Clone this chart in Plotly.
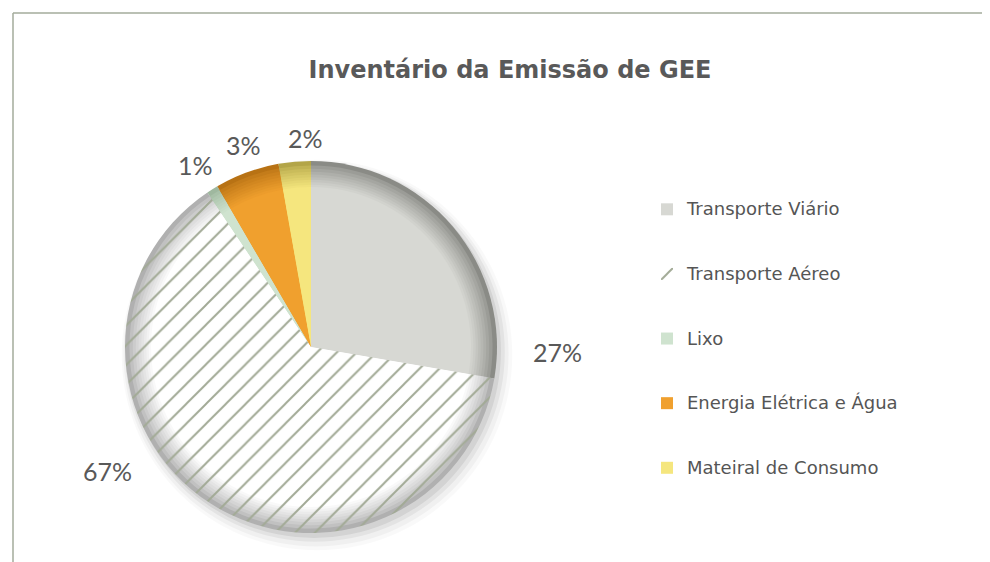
import plotly.graph_objects as go

# ---- data ----
categories = ["Transporte Viário", "Transporte Aéreo", "Lixo",
              "Energia Elétrica e Água", "Mateiral de Consumo"]
slice_values = [27.7, 62.9, 1.0, 5.6, 2.8]          # angular share as drawn
label_texts = ["27%", "67%", "1%", "3%", "2%"]       # percentages printed

face_colors = ["#d7d8d3", "#ffffff", "#cfe3cf", "#f0a02e", "#f5e67e"]
edge_colors = ["#8a8b86", "#b0b0b0", "#9fb89f", "#b87214", "#b3a548"]
shapes_pat = ["", "/", "", "", ""]
hatch_color = "#a2aa96"

# page body has an 8px margin, so the figure is drawn 8px lower/right
OFF = 8
W, H = 982, 554
CX, CY, R = 311 - OFF, 347 - OFF, 186


def dom(f, dx=0, dy=0):
    r = f * R
    return dict(x=[(CX + dx - r) / W, (CX + dx + r) / W],
                y=[1 - (CY + dy + r) / H, 1 - (CY + dy - r) / H])


def mix(c1, c2, t):
    a = [int(c1[i:i + 2], 16) for i in (1, 3, 5)]
    b = [int(c2[i:i + 2], 16) for i in (1, 3, 5)]
    return "#%02x%02x%02x" % tuple(round(a[k] + (b[k] - a[k]) * t) for k in range(3))


legend_names = [" <br><span style='font-size:18px'>" + c + "</span><br> " for c in categories]

fig = go.Figure()

# soft shadow layers
for f, dx, dy, a in [(1.05, 6, 8, 0.025), (1.035, 5, 7, 0.035), (1.02, 4, 5, 0.05), (1.005, 3, 4, 0.07)]:
    fig.add_trace(go.Pie(values=[1], labels=["shadow"], domain=dom(f, dx, dy),
                         marker=dict(colors=[f"rgba(0,0,0,{a})"], line=dict(width=0)),
                         textinfo="none", hoverinfo="skip", showlegend=False,
                         sort=False))

N = 10
for i in range(N):
    t = i / (N - 1)
    f = 1.0 - 0.14 * (t ** 0.8)
    cols = [mix(e, fc, t ** 0.7) for e, fc in zip(edge_colors, face_colors)]
    fig.add_trace(go.Pie(
        labels=legend_names, values=slice_values, domain=dom(f),
        sort=False, direction="clockwise", rotation=0,
        textinfo="none", hoverinfo="percent",
        showlegend=(i == N - 1),
        marker=dict(colors=cols, line=dict(width=0),
                    pattern=dict(shape=shapes_pat, fgcolor=hatch_color,
                                 bgcolor=cols, size=14, solidity=0.14)),
    ))

label_pos = [(557, 352), (107, 471), (195, 165), (243, 145), (305, 138)]
annotations = []
for t, (px, py) in zip(label_texts, label_pos):
    annotations.append(dict(x=(px - OFF) / W, y=1 - (py - OFF) / H,
                            xref="paper", yref="paper",
                            text=t, showarrow=False,
                            font=dict(size=25, color="#595959", family="Lato"),
                            xanchor="center", yanchor="middle"))

fx, fy = (13 - OFF) / W, 1 - (13 - OFF) / H
fig.update_layout(
    width=W, height=H,
    paper_bgcolor="white", plot_bgcolor="white",
    margin=dict(l=0, r=0, t=0, b=0),
    title=dict(text="<b>Inventário da Emissão de GEE</b>",
               x=(510 - OFF) / W, xanchor="center", y=1 - (70 - OFF) / H, yanchor="middle",
               font=dict(size=24, color="#595959", family="DejaVu Sans")),
    legend=dict(x=(647 - OFF) / W, xanchor="left", y=1 - (172 - OFF) / H, yanchor="top",
                font=dict(size=15.8, color="#555555", family="DejaVu Sans"),
                valign="middle", bgcolor="rgba(0,0,0,0)"),
    annotations=annotations,
    shapes=[
        dict(type="line", xref="paper", yref="paper", x0=fx, x1=1, y0=fy, y1=fy,
             line=dict(color="#a3ab9b", width=1.5)),
        dict(type="line", xref="paper", yref="paper", x0=fx, x1=fx, y0=0, y1=fy,
             line=dict(color="#a3ab9b", width=1.5)),
    ],
)

fig.write_html("out.html")
